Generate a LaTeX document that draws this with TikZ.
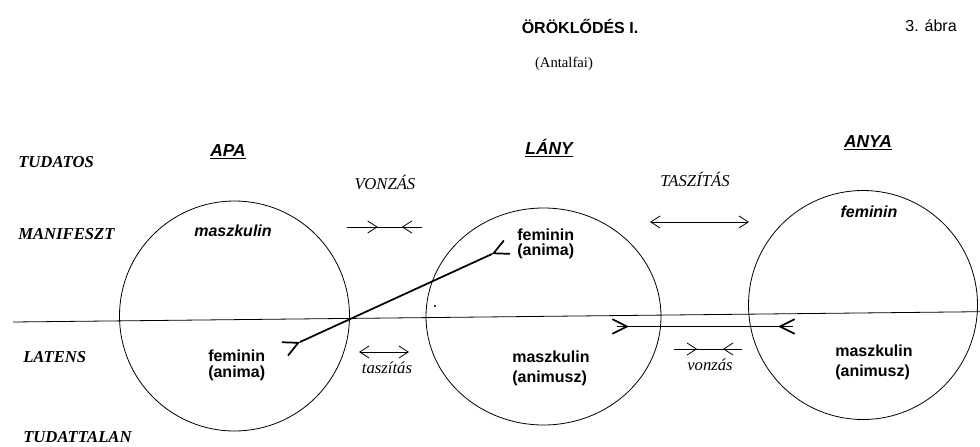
\documentclass[tikz,border=0pt]{standalone}
\usepackage{fontspec}
\setmainfont{Liberation Serif}
\setsansfont{Liberation Sans}
\usetikzlibrary{arrows.meta,shapes.geometric,decorations.markings}

\tikzset{
  barb/.tip={Straight Barb[length=7pt, width=9pt]},
  bigbarb/.tip={Straight Barb[length=11pt, width=11pt]},
  attract/.style 2 args={postaction={decorate}, decoration={markings,
      mark=at position #1 with {\arrow{barb}},
      mark=at position #2 with {\arrowreversed{barb}}}},
  bond/.style 2 args={line width=1.3pt, postaction={decorate}, decoration={markings,
      mark=at position #1 with {\arrow{bigbarb}},
      mark=at position #2 with {\arrowreversed{bigbarb}}}},
}

\begin{document}
\begin{tikzpicture}[x=0.75pt, y=-0.75pt,
    level/.style={anchor=west, inner sep=0pt, font=\bfseries\itshape\fontsize{12.5}{15}\selectfont},
    person/.style={font=\sffamily\bfseries\itshape\fontsize{13}{15}\selectfont},
    trait/.style={align=left, inner sep=0pt, font=\sffamily\bfseries\fontsize{12}{11.5}\selectfont},
    traitm/.style={inner sep=0pt, font=\sffamily\bfseries\itshape\fontsize{12}{15}\selectfont},
    mood/.style={font=\itshape\fontsize{12.5}{15}\selectfont},
    psyche/.style={draw, line width=0.6pt, inner sep=0pt, outer sep=0pt},
    thin/.style={line width=0.6pt}
]
\useasboundingbox (0,0) rectangle (980,446);

% Title
\node[font=\sffamily\bfseries\fontsize{12}{14}\selectfont] (title) at (580,26) {ÖRÖKLŐDÉS I.};
\node[font=\sffamily\fontsize{12}{14}\selectfont] (fig) at (931,26) {3. ábra};
\node[font=\fontsize{11}{13}\selectfont] (author) at (564,64) {(Antalfai)};

% Levels of the psyche
\node[level] (tudatos) at (18,162) {TUDATOS};
\node[level] (manifeszt) at (18,234) {MANIFESZT};
\node[level] (latens) at (23,357) {LATENS};
\node[level] (tudattalan) at (23,437) {TUDATTALAN};

% Persons
\node[person] (apa) at (228,152) {\underline{APA}};
\node[person] (lany) at (549,148) {\underline{LÁNY}};
\node[person] (anya) at (868,143) {\underline{ANYA}};

% Psyches
\node[psyche, circle, minimum size=172.5pt] (apaC) at (234.5,316) {};
\node[psyche, ellipse, minimum width=176.25pt, minimum height=162.75pt] (lanyC) at (543.5,316.5) {};
\node[psyche, circle, minimum size=171.75pt] (anyaC) at (863,305) {};

% Border manifest / latent
\coordinate (borderL) at (13,322);
\coordinate (borderR) at (980,311.7);
\draw[thin] (borderL) -- (borderR);

% Traits
\node[traitm] (apaM) at (233,231) {maszkulin};
\node[trait, anchor=west] (lanyM) at (517,244) {feminin\\(anima)};
\node[traitm] (anyaM) at (869,212) {feminin};
\node[trait, anchor=west] (apaL) at (208,365.5) {feminin\\(anima)};
\node[trait, anchor=west, font=\sffamily\bfseries\fontsize{12}{15}\selectfont] (lanyL) at (512,368) {maszkulin\\(animusz)};
\node[trait, anchor=west, font=\sffamily\bfseries\fontsize{12}{15}\selectfont] (anyaL) at (835,362) {maszkulin\\(animusz)};

% Attraction and repulsion
\coordinate (vonzA) at (347,227);
\coordinate (vonzB) at (422,227);
\draw[thin, attract={0.41}{0.73}] (vonzA) -- (vonzB);
\node[mood] (vonzT) at (385,182) {VONZÁS};

\coordinate (taszA) at (650,222);
\coordinate (taszB) at (749,222);
\draw[thin, arrows={barb-barb}] (taszA) -- (taszB);
\node[mood] (taszT) at (695,179) {TASZÍTÁS};

\coordinate (taszC) at (359,352);
\coordinate (taszD) at (409,352);
\draw[thin, arrows={barb-barb}] (taszC) -- (taszD);
\node[mood] (taszL) at (387,368) {taszítás};

\coordinate (vonzC) at (674,349);
\coordinate (vonzD) at (742,349);
\draw[thin, attract={0.34}{0.72}] (vonzC) -- (vonzD);
\node[mood] (vonzL) at (710,365) {vonzás};

% Bonds between the parents and the daughter
\coordinate (apaBond) at (300,342);
\coordinate (lanyBond) at (492,254);
\draw[bond={0}{0.999}] (apaBond) -- (lanyBond);

\coordinate (lanyLat) at (617,326.5);
\coordinate (anyaLat) at (793,326.5);
\draw[bond={0.068}{0.915}] (lanyLat) -- (anyaLat);

\fill (435,306) circle[radius=0.8pt];

\end{tikzpicture}
\end{document}
